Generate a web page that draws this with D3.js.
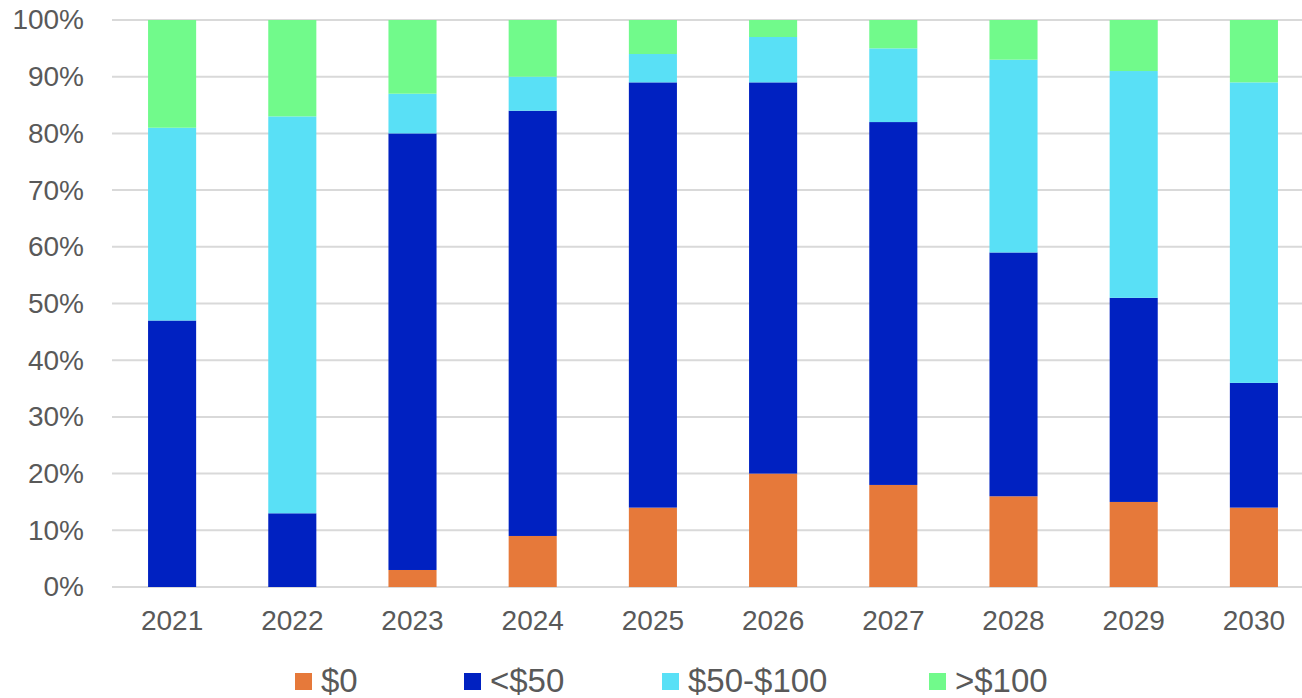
<!DOCTYPE html>
<html>
<head>
<meta charset="utf-8">
<script src="https://cdn.jsdelivr.net/npm/d3@7"></script>
<style>
  html, body { margin: 0; padding: 0; background: #fff; }
  svg { display: block; }
  text { font-family: "Liberation Sans", Arial, sans-serif; fill: #595959; }
</style>
</head>
<body>
<svg id="chart" width="1302" height="698"></svg>
<script>
// ---- Data ----
const years = ["2021","2022","2023","2024","2025","2026","2027","2028","2029","2030"];
const seriesNames = ["$0", "<$50", "$50-$100", ">$100"];
const zero      = [0, 0, 3, 9, 14, 20, 18, 16, 15, 14];
const under50   = [47, 13, 77, 75, 75, 69, 64, 43, 36, 22];
const from50to100 = [34, 70, 7, 6, 5, 8, 13, 34, 40, 53];
const over100   = [19, 17, 13, 10, 6, 3, 5, 7, 9, 11];
const yTicks = [0, 0.1, 0.2, 0.3, 0.4, 0.5, 0.6, 0.7, 0.8, 0.9, 1.0];

const colors = ["#E6793A", "#0021C1", "#59E0F6", "#71FA8B"];

// ---- Build table ----
const seriesValues = [zero, under50, from50to100, over100];
const rows = years.map((y, i) => {
  const r = { year: y };
  seriesNames.forEach((s, k) => r[s] = seriesValues[k][i] / 100);
  return r;
});
const stacked = d3.stack().keys(seriesNames)(rows);

const svg = d3.select("#chart");
const x = d3.scaleBand().domain(years).range([112, 1314]).paddingInner(0.6).paddingOuter(0.3);
const y = d3.scaleLinear().domain([0, 1]).range([587, 20]);

// gridlines
svg.append("g").selectAll("line").data(yTicks).join("line")
  .attr("x1", 112).attr("x2", 1314)
  .attr("y1", d => y(d)).attr("y2", d => y(d))
  .attr("stroke", "#D9D9D9").attr("stroke-width", 2);

// y axis
const yAxis = svg.append("g").attr("transform", "translate(112,0)")
  .call(d3.axisLeft(y).tickValues(yTicks).tickFormat(d3.format(".0%")).tickSize(0).tickPadding(28));
yAxis.select(".domain").remove();
yAxis.selectAll("text").style("font-size", "28px").attr("fill", "#595959")
  .style("font-family", "'Liberation Sans', Arial, sans-serif");

// bars
svg.append("g").selectAll("g").data(stacked).join("g")
  .attr("fill", (d, i) => colors[i])
  .selectAll("rect").data(d => d).join("rect")
  .attr("x", d => x(d.data.year))
  .attr("width", x.bandwidth())
  .attr("y", d => y(d[1]))
  .attr("height", d => y(d[0]) - y(d[1]));

// x axis
const xAxis = svg.append("g").attr("transform", "translate(0,587)")
  .call(d3.axisBottom(x).tickSize(0).tickPadding(23));
xAxis.select(".domain").remove();
xAxis.selectAll("text").style("font-size", "28px").attr("fill", "#595959")
  .style("font-family", "'Liberation Sans', Arial, sans-serif");

// legend
const legendX = [295, 464, 662, 929];
const lg = svg.append("g").selectAll("g").data(seriesNames).join("g")
  .attr("transform", (d, i) => `translate(${legendX[i]},673)`);
lg.append("rect").attr("width", 17).attr("height", 17).attr("fill", (d, i) => colors[i]);
lg.append("text").attr("x", 26).attr("y", 19).style("font-size", "33px").text(d => d);
</script>
</body>
</html>
